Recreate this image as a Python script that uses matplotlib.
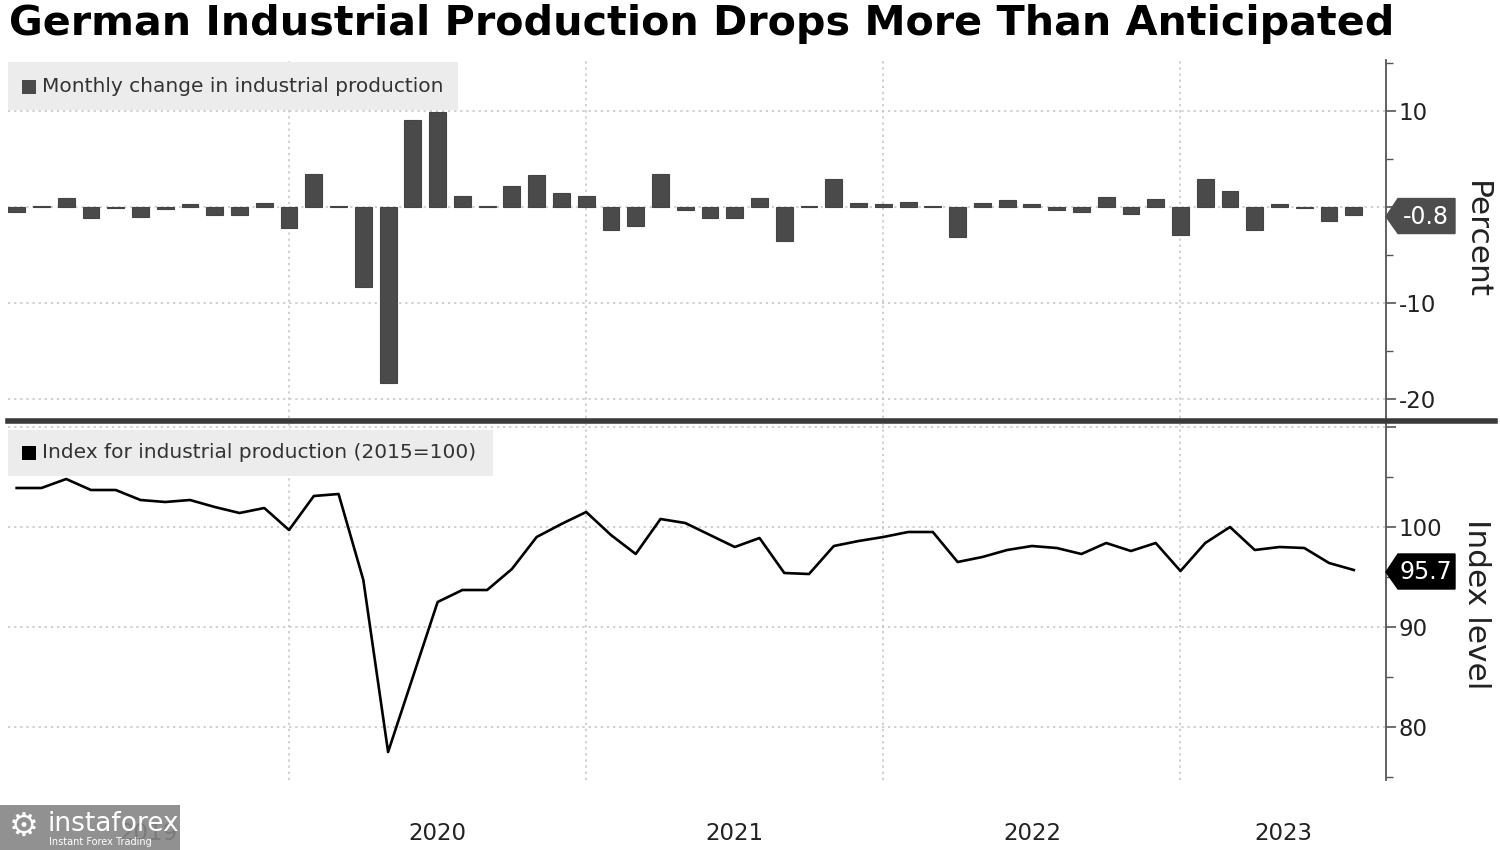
import matplotlib
matplotlib.use('Agg')
import matplotlib.pyplot as plt
import matplotlib.transforms as mtransforms
from matplotlib.patches import Polygon, Rectangle
from matplotlib.lines import Line2D
import numpy as np

# monthly data, Jan 2019 .. Jul 2023
mom_change = [
    -0.5, 0.1, 0.9, -1.2, -0.1, -1.1, -0.25, 0.3, -0.8, -0.8, 0.45, -2.2,   # 2019
    3.4, 0.1, -8.4, -18.4, 9.0, 9.9, 1.1, 0.1, 2.2, 3.3, 1.4, 1.1,          # 2020
    -2.4, -2.0, 3.4, -0.35, -1.2, -1.2, 0.9, -3.6, 0.1, 2.9, 0.4, 0.3,      # 2021
    0.55, 0.1, -3.1, 0.45, 0.7, 0.3, -0.35, -0.5, 1.0, -0.75, 0.85, -2.9,   # 2022
    2.9, 1.65, -2.4, 0.3, -0.1, -1.5, -0.8,                                 # 2023
]
ip_index = [
    103.9, 103.9, 104.8, 103.7, 103.7, 102.7, 102.5, 102.7, 102.0, 101.4, 101.9, 99.7,
    103.1, 103.3, 94.7, 77.5, 85.0, 92.5, 93.7, 93.7, 95.8, 99.0, 100.3, 101.5,
    99.2, 97.3, 100.8, 100.4, 99.2, 98.0, 98.9, 95.4, 95.3, 98.1, 98.6, 99.0,
    99.5, 99.5, 96.5, 97.0, 97.7, 98.1, 97.9, 97.3, 98.4, 97.6, 98.4, 95.6,
    98.4, 100.0, 97.7, 98.0, 97.9, 96.4, 95.7,
]
years = ['2019', '2020', '2021', '2022', '2023']
last_change = '-0.8'
last_level = '95.7'

x = np.arange(len(mom_change))
year_lines = [11, 23, 35, 47]   # December points sit on the new-year line
xlim = (-0.35, 55.3)

W, H = 1500, 850
fig = plt.figure(figsize=(W / 100, H / 100), dpi=100)
fig.patch.set_facecolor('white')


def px_axes(left, top, right, bottom):
    return [left / W, 1 - bottom / H, (right - left) / W, (bottom - top) / H]


ax1 = fig.add_axes(px_axes(8, 60, 1386, 418))
ax2 = fig.add_axes(px_axes(8, 424, 1386, 780))

grid_kw = dict(color='#c4c4c4', linestyle=(0, (1.5, 2.5)), linewidth=1.1, zorder=1)

for ax in (ax1, ax2):
    ax.set_xlim(*xlim)
    for s in ('left', 'top', 'bottom'):
        ax.spines[s].set_visible(False)
    ax.spines['right'].set_color('#555555')
    ax.spines['right'].set_linewidth(1.3)
    ax.yaxis.tick_right()
    ax.set_xticks([])
    ax.tick_params(axis='y', which='major', direction='out', length=7, width=1.2,
                   color='#555555', labelsize=16.5, labelcolor='#222222', pad=2)
    ax.tick_params(axis='y', which='minor', direction='out', length=5, width=1.0,
                   color='#555555')
    ax.grid(axis='y', which='major', **grid_kw)
    for xl in year_lines:
        ax.axvline(xl, **grid_kw)

# top panel: monthly change
ax1.bar(x, mom_change, width=0.68, color='#4a4a4a', edgecolor='#444444',
        linewidth=0.8, zorder=3)
ax1.set_ylim(-22, 15.3)
ax1.set_yticks([-20, -10, 0, 10], ['-20', '-10', '', '10'])
ax1.set_yticks([-15, -5, 5, 15], minor=True)

# bottom panel: index level
ax2.plot(x, ip_index, color='black', linewidth=1.9, zorder=3)
ax2.set_ylim(74.7, 110.3)
ax2.set_yticks([80, 90, 100, 110], ['80', '90', '100', ''])
ax2.set_yticks([75, 85, 95, 105], minor=True)


def value_tag(ax, value, text, color):
    trans = mtransforms.blended_transform_factory(ax.transAxes, ax.transData)
    anchor = mtransforms.ScaledTranslation(1, value, trans)
    verts = [(0, -2), (12, 16), (69, 16), (69, -19), (12, -19)]
    ax.add_patch(Polygon(verts, closed=True, transform=anchor, facecolor=color,
                         edgecolor=color, clip_on=False, zorder=6))
    ax.annotate(text, xy=(1, value), xycoords=trans, xytext=(28.5, -1.5),
                textcoords='offset points', ha='center', va='center',
                color='white', fontsize=17, zorder=7, annotation_clip=False)


value_tag(ax1, float(last_change), last_change, '#4d4d4d')
value_tag(ax2, float(last_level), last_level, '#000000')

# year labels centred on each visible year span
bounds = [xlim[0]] + year_lines + [xlim[1]]
lab_trans = mtransforms.blended_transform_factory(ax2.transData, ax2.transAxes)
for i, yr in enumerate(years):
    c = (bounds[i] + bounds[i + 1]) / 2
    ax2.text(c, -0.149, yr, transform=lab_trans, ha='center', va='center',
             fontsize=16.5, color='#222222')

# axis titles on the right
fig.text(1476 / W, 1 - 240 / H, 'Percent', rotation=270, ha='center', va='center',
         fontsize=22.5, color='#222222')
fig.text(1476 / W, 1 - 604 / H, 'Index level', rotation=270, ha='center', va='center',
         fontsize=22.5, color='#222222')

# legend boxes
fig.add_artist(Rectangle((8 / W, 1 - 110 / H), 450 / W, 48 / H, transform=fig.transFigure,
                         facecolor='#ececec', edgecolor='none', zorder=4))
fig.add_artist(Rectangle((22 / W, 1 - 94 / H), 14 / W, 14 / H, transform=fig.transFigure,
                         facecolor='#4a4a4a', edgecolor='none', zorder=5))
fig.text(42 / W, 1 - 87 / H, 'Monthly change in industrial production', ha='left',
         va='center', fontsize=14.5, color='#333333', zorder=5)

fig.add_artist(Rectangle((8 / W, 1 - 476 / H), 485 / W, 46 / H, transform=fig.transFigure,
                         facecolor='#ececec', edgecolor='none', zorder=4))
fig.add_artist(Rectangle((22 / W, 1 - 460 / H), 14 / W, 14 / H, transform=fig.transFigure,
                         facecolor='#000000', edgecolor='none', zorder=5))
fig.text(42 / W, 1 - 453 / H, 'Index for industrial production (2015=100)', ha='left',
         va='center', fontsize=14.5, color='#333333', zorder=5)

# thick separator between the panels
fig.add_artist(Line2D([8 / W, 1495 / W], [1 - 421 / H, 1 - 421 / H], color='#3a3a3a',
                      linewidth=4, transform=fig.transFigure, zorder=5))

# title
fig.text(9 / W, 1 - 24 / H, 'German Industrial Production Drops More Than Anticipated',
         ha='left', va='center', fontsize=29.7, fontweight='bold', color='black')

# watermark
fig.add_artist(Rectangle((0, 0), 180 / W, 45 / H, transform=fig.transFigure,
                         facecolor='#858585', edgecolor='none', alpha=0.9, zorder=8))
fig.text(24 / W, 1 - 826 / H, '\u2699', ha='center', va='center', fontsize=24,
         color='white', zorder=9)
fig.text(47 / W, 1 - 824 / H, 'instaforex', ha='left', va='center', fontsize=19,
         color='white', zorder=9)
fig.text(49 / W, 1 - 842 / H, 'Instant Forex Trading', ha='left', va='center',
         fontsize=7, color='white', zorder=9)

fig.savefig('out.png', dpi=100, facecolor='white')
